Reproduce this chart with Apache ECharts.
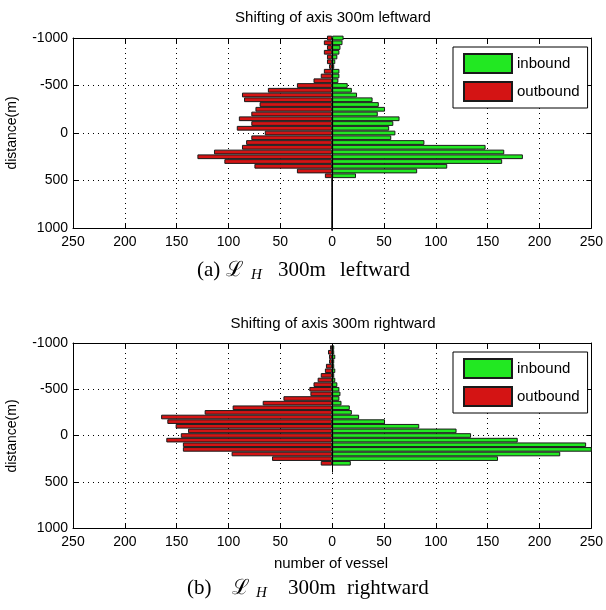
<!DOCTYPE html>
<html><head><meta charset="utf-8">
<script src="https://cdn.jsdelivr.net/npm/echarts@6/dist/echarts.min.js"></script>
<style>html,body{margin:0;padding:0;background:#fff}#c{width:606px;height:610px}</style>
</head><body><div id="c"></div>
<script>
// distance bins (m), bar centres
const distances = ['-1000','-950','-900','-850','-800','-750','-700','-650','-600','-550','-500','-450','-400','-350','-300','-250','-200','-150','-100','-50','0','50','100','150','200','250','300','350','400','450','500','550','600','650','700','750','800','850','900','950','1000'];
const xTicks = [-250,-200,-150,-100,-50,0,50,100,150,200,250];

// (a) 300m leftward
const inboundA  = [11,10,8,7,5,3,2,7,7,6,15,19,24,39,45,51,44,65,59,55,61,57,89,148,166,184,164,111,82,23,0,0,0,0,0,0,0,0,0,0,0];
const outboundA = [5,8,5,8,5,5,3,8,11,18,34,62,87,85,70,74,78,90,78,92,65,78,83,87,114,130,104,75,34,7,0,0,0,0,0,0,0,0,0,0,0];
// (b) 300m rightward
const inboundB  = [null,2,2,3,2,2,3,2,3,5,7,8,7,9,17,19,26,51,84,120,134,179,245,252,220,160,18,null,null,null,null,null,null,null,null,null,null,null,null,null,null];
const outboundB = [null,2,4,3,3,6,7,11,14,18,22,21,47,67,96,123,165,159,151,139,146,160,144,144,97,58,11,null,null,null,null,null,null,null,null,null,null,null,null,null,null];

const FONT = "'Liberation Sans', Arial, sans-serif";
const SERIF = "'Liberation Serif', 'DejaVu Serif', serif";
const GREEN = '#22e822', RED = '#d41414', EDGE = '#1a1a1a';
const neg = v => (v == null ? null : -v);

const grids = [
  {left: 73, top: 38, width: 520, height: 190},
  {left: 73, top: 343, width: 520, height: 185}
];

function xAxes(gi) {
  const common = {gridIndex: gi, type: 'value', min: xTicks[0], max: xTicks[xTicks.length-1], interval: 50,
    axisLine: {show: true, onZero: false, lineStyle: {color: '#000', width: 1}},
    axisTick: {show: true, inside: true, length: 5, lineStyle: {color: '#000'}}};
  return [
    Object.assign({}, common, {position: 'bottom',
      axisLabel: {formatter: v => String(Math.abs(v)), color: '#000', fontSize: 14, fontFamily: FONT, margin: 7},
      splitLine: {show: true, lineStyle: {type: [1, 4], color: '#000', width: 1}}}),
    Object.assign({}, common, {position: 'top', axisLabel: {show: false}, splitLine: {show: false}})
  ];
}
function yAxes(gi) {
  const common = {gridIndex: gi, type: 'category', data: distances, inverse: true, boundaryGap: false,
    axisLine: {show: true, onZero: false, lineStyle: {color: '#000', width: 1}},
    axisTick: {show: true, inside: true, length: 5, interval: 9, lineStyle: {color: '#000'}}};
  return [
    Object.assign({}, common, {position: 'left',
      axisLabel: {interval: 9, color: '#000', fontSize: 14, fontFamily: FONT, margin: 5},
      splitLine: {show: true, interval: 9, lineStyle: {type: [1, 4], color: '#000', width: 1}}}),
    Object.assign({}, common, {position: 'right', axisLabel: {show: false}, splitLine: {show: false}})
  ];
}

function barSeries(name, data, color, xi, yi, markLine) {
  const s = {type: 'bar', name: name, data: data, xAxisIndex: xi, yAxisIndex: yi,
    barCategoryGap: '0%', barGap: '-100%', clip: true, z: 3,
    itemStyle: {color: color, borderColor: EDGE, borderWidth: 1}};
  if (markLine) s.markLine = markLine;
  return s;
}
const zeroLineStyle = {silent: true, symbol: 'none', label: {show: false}, lineStyle: {color: '#000', type: 'solid', width: 1}};

function legend(top) {
  return {orient: 'vertical', left: 453, top: top, data: ['inbound', 'outbound'], icon: 'rect',
    itemWidth: 48, itemHeight: 19, itemGap: 7, padding: [6, 8, 6, 10],
    borderColor: '#000', borderWidth: 1, backgroundColor: '#fff', selectedMode: false,
    textStyle: {color: '#000', fontSize: 15, fontFamily: FONT}};
}

function txt(x, y, text, opts) {
  return {type: 'text', x: x, y: y, silent: true, z: 100,
    style: Object.assign({text: text, fill: '#000', font: '15px ' + FONT, textAlign: 'left', textVerticalAlign: 'middle'}, opts || {})};
}

const option = {
  animation: false,
  backgroundColor: '#fff',
  grid: grids,
  xAxis: xAxes(0).concat(xAxes(1)),
  yAxis: yAxes(0).concat(yAxes(1)),
  legend: [legend(47), legend(352)],
  series: [
    barSeries('inbound', inboundA, GREEN, 0, 0, Object.assign({data: [{xAxis: 0}]}, zeroLineStyle)),
    barSeries('outbound', outboundA.map(neg), RED, 0, 0),
    barSeries('inbound', inboundB, GREEN, 2, 2, Object.assign({data: [[{coord: [0, 0]}, {coord: [0, 28]}]]}, zeroLineStyle)),
    barSeries('outbound', outboundB.map(neg), RED, 2, 2)
  ],
  graphic: [
    txt(333, 18, 'Shifting of axis 300m leftward', {textAlign: 'center'}),
    Object.assign(txt(12, 133, 'distance(m)', {textAlign: 'center', font: '14px ' + FONT}), {rotation: Math.PI / 2}),
    txt(197, 270, '(a)', {font: '21px ' + SERIF}),
    txt(226, 270, 'ℒ', {font: '21px ' + SERIF}),
    txt(251, 275, 'H', {font: 'italic 15px ' + SERIF}),
    txt(278, 270, '300m', {font: '21px ' + SERIF}),
    txt(340, 270, 'leftward', {font: '21px ' + SERIF}),

    txt(333, 324, 'Shifting of axis 300m rightward', {textAlign: 'center'}),
    Object.assign(txt(12, 436, 'distance(m)', {textAlign: 'center', font: '14px ' + FONT}), {rotation: Math.PI / 2}),
    txt(331, 564, 'number of vessel', {textAlign: 'center'}),
    txt(187, 588, '(b)', {font: '21px ' + SERIF}),
    txt(232, 588, 'ℒ', {font: '21px ' + SERIF}),
    txt(256, 593, 'H', {font: 'italic 15px ' + SERIF}),
    txt(288, 588, '300m', {font: '21px ' + SERIF}),
    txt(347, 588, 'rightward', {font: '21px ' + SERIF})
  ]
};
const chart = echarts.init(document.getElementById('c'), null, {renderer: 'canvas'});
chart.setOption(option);
</script>
</body></html>
